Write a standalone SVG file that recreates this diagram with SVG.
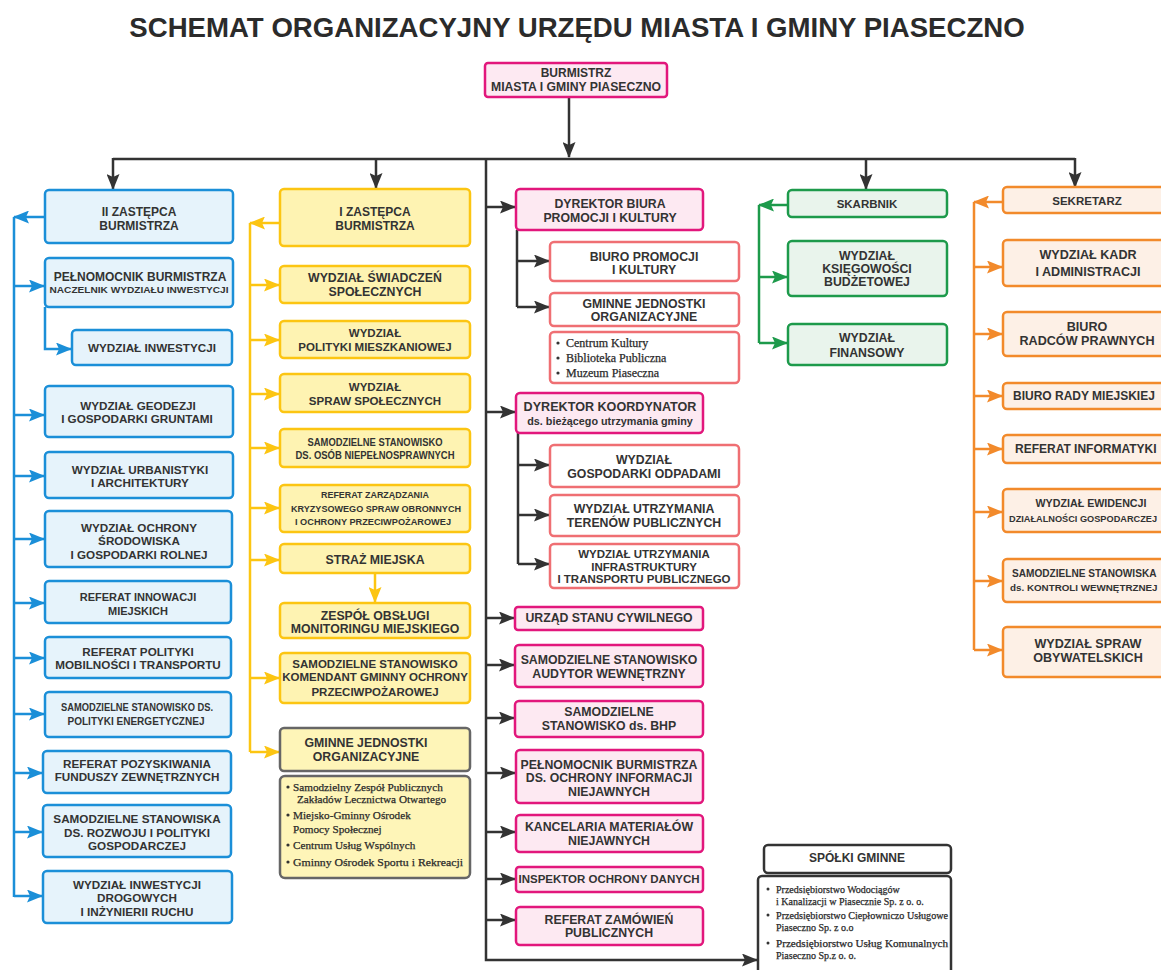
<svg xmlns="http://www.w3.org/2000/svg" width="1161" height="970" viewBox="0 0 1161 970">
<style>
text{font-family:"Liberation Sans",Arial,sans-serif;font-weight:bold;fill:#333;text-anchor:middle;font-size:11.5px}
.f12{font-size:12px}.f11{font-size:11px}.f10{font-size:10.5px}.f9{font-size:9.5px}
.fb{font-size:11.7px}.fm{font-size:12.3px}.fo{font-size:12.6px}
text.sr{font-family:"Liberation Serif","Times New Roman",serif;font-weight:normal;text-anchor:start;fill:#2a2a2a;stroke:#2a2a2a;stroke-width:0.25}
text.st{text-anchor:start}
rect{stroke-width:2.5}
.blue rect{fill:#e6f3fb;stroke:#1b8fd8}
.yel rect{fill:#fef3b2;stroke:#fcc512}
.pink rect{fill:#fde9f2;stroke:#e2177c}
.sal rect{fill:#ffffff;stroke:#ef6f73}
.grn rect{fill:#e9f4ec;stroke:#1d9a4b}
.org rect{fill:#fdf0e6;stroke:#f28a2b}
.gry rect{fill:#fef5b8;stroke:#666}
.blk rect{fill:#ffffff;stroke:#333}
.c{fill:none;stroke-width:2.5}
.cb{stroke:#1b8fd8}.cy{stroke:#fcc512}.ck{stroke:#333}.cg{stroke:#1d9a4b}.co{stroke:#f28a2b}
.dot{fill:#333}
</style>
<defs>
<marker id="ab" markerUnits="userSpaceOnUse" markerWidth="16" markerHeight="13" viewBox="0 0 16 13" refX="15" refY="6.5" orient="auto"><path d="M0,0 L16,6.5 L0,13 L3,6.5 z" fill="#1b8fd8"/></marker>
<marker id="ay" markerUnits="userSpaceOnUse" markerWidth="16" markerHeight="13" viewBox="0 0 16 13" refX="15" refY="6.5" orient="auto"><path d="M0,0 L16,6.5 L0,13 L3,6.5 z" fill="#fcc512"/></marker>
<marker id="ak" markerUnits="userSpaceOnUse" markerWidth="16" markerHeight="13" viewBox="0 0 16 13" refX="15" refY="6.5" orient="auto"><path d="M0,0 L16,6.5 L0,13 L3,6.5 z" fill="#333"/></marker>
<marker id="ag" markerUnits="userSpaceOnUse" markerWidth="16" markerHeight="13" viewBox="0 0 16 13" refX="15" refY="6.5" orient="auto"><path d="M0,0 L16,6.5 L0,13 L3,6.5 z" fill="#1d9a4b"/></marker>
<marker id="ao" markerUnits="userSpaceOnUse" markerWidth="16" markerHeight="13" viewBox="0 0 16 13" refX="15" refY="6.5" orient="auto"><path d="M0,0 L16,6.5 L0,13 L3,6.5 z" fill="#f28a2b"/></marker>
</defs>
<rect x="0" y="0" width="1161" height="970" fill="#ffffff" stroke="none"/>
<text x="577" y="37" style="font-size:27.6px;fill:#2b2b2b">SCHEMAT ORGANIZACYJNY URZĘDU MIASTA I GMINY PIASECZNO</text>

<g id="connectors">
  <path class="c ck" d="M569,97 V157" marker-end="url(#ak)"/>
  <path class="c ck" d="M113,159 H1075"/>
  <path class="c ck" d="M113,158 V189" marker-end="url(#ak)"/>
  <path class="c ck" d="M376,158 V188" marker-end="url(#ak)"/>
  <path class="c ck" d="M866,158 V189" marker-end="url(#ak)"/>
  <path class="c ck" d="M1075,158 V187" marker-end="url(#ak)"/>
  <path class="c ck" d="M486,158 V960 H757" marker-end="url(#ak)"/>
  <path class="c ck" d="M486,207 H515" marker-end="url(#ak)"/>
  <path class="c ck" d="M486,412 H515" marker-end="url(#ak)"/>
  <path class="c ck" d="M486,618 H514" marker-end="url(#ak)"/>
  <path class="c ck" d="M486,665 H514" marker-end="url(#ak)"/>
  <path class="c ck" d="M486,718 H514" marker-end="url(#ak)"/>
  <path class="c ck" d="M486,773 H515" marker-end="url(#ak)"/>
  <path class="c ck" d="M486,832 H515" marker-end="url(#ak)"/>
  <path class="c ck" d="M486,879 H515" marker-end="url(#ak)"/>
  <path class="c ck" d="M486,920 H515" marker-end="url(#ak)"/>
  <path class="c ck" d="M517,230 V307"/>
  <path class="c ck" d="M517,261 H549" marker-end="url(#ak)"/>
  <path class="c ck" d="M517,307 H549" marker-end="url(#ak)"/>
  <path class="c ck" d="M518,433 V564"/>
  <path class="c ck" d="M518,465 H549" marker-end="url(#ak)"/>
  <path class="c ck" d="M518,515 H549" marker-end="url(#ak)"/>
  <path class="c ck" d="M518,564 H549" marker-end="url(#ak)"/>
  <path class="c cb" d="M14,217 V897"/>
  <path class="c cb" d="M45,217 H14" marker-end="url(#ab)"/>
  <path class="c cb" d="M14,286 H44" marker-end="url(#ab)"/>
  <path class="c cb" d="M45,307 V349 H71" marker-end="url(#ab)"/>
  <path class="c cb" d="M14,415 H44" marker-end="url(#ab)"/>
  <path class="c cb" d="M14,476 H44" marker-end="url(#ab)"/>
  <path class="c cb" d="M14,539 H44" marker-end="url(#ab)"/>
  <path class="c cb" d="M14,603 H44" marker-end="url(#ab)"/>
  <path class="c cb" d="M14,658 H44" marker-end="url(#ab)"/>
  <path class="c cb" d="M14,714 H44" marker-end="url(#ab)"/>
  <path class="c cb" d="M14,773 H42" marker-end="url(#ab)"/>
  <path class="c cb" d="M14,832 H42" marker-end="url(#ab)"/>
  <path class="c cb" d="M14,896 H42" marker-end="url(#ab)"/>
  <path class="c cy" d="M250,223 V752"/>
  <path class="c cy" d="M280,223 H250" marker-end="url(#ay)"/>
  <path class="c cy" d="M250,285 H279" marker-end="url(#ay)"/>
  <path class="c cy" d="M250,340 H279" marker-end="url(#ay)"/>
  <path class="c cy" d="M250,394 H279" marker-end="url(#ay)"/>
  <path class="c cy" d="M250,448 H279" marker-end="url(#ay)"/>
  <path class="c cy" d="M250,508 H279" marker-end="url(#ay)"/>
  <path class="c cy" d="M250,560 H279" marker-end="url(#ay)"/>
  <path class="c cy" d="M250,678 H279" marker-end="url(#ay)"/>
  <path class="c cy" d="M250,752 H279" marker-end="url(#ay)"/>
  <path class="c cy" d="M375,573 V602" marker-end="url(#ay)"/>
  <path class="c cg" d="M759,205 V343"/>
  <path class="c cg" d="M788,205 H759" marker-end="url(#ag)"/>
  <path class="c cg" d="M759,277 H787" marker-end="url(#ag)"/>
  <path class="c cg" d="M759,343 H787" marker-end="url(#ag)"/>
  <path class="c co" d="M974,202 V650"/>
  <path class="c co" d="M1003,202 H974" marker-end="url(#ao)"/>
  <path class="c co" d="M974,267 H1002" marker-end="url(#ao)"/>
  <path class="c co" d="M974,334 H1002" marker-end="url(#ao)"/>
  <path class="c co" d="M974,396 H1002" marker-end="url(#ao)"/>
  <path class="c co" d="M974,449 H1002" marker-end="url(#ao)"/>
  <path class="c co" d="M974,512 H1002" marker-end="url(#ao)"/>
  <path class="c co" d="M974,581 H1002" marker-end="url(#ao)"/>
  <path class="c co" d="M974,650 H1002" marker-end="url(#ao)"/>
</g>

<g id="burmistrz" class="pink"><rect x="485" y="63" width="182" height="34" rx="3"/>
<text x="576" y="77" class="f12">BURMISTRZ</text><text x="576" y="90.5" class="f12" textLength="170" lengthAdjust="spacingAndGlyphs">MIASTA I GMINY PIASECZNO</text></g>

<g id="b1" class="blue"><rect x="45" y="190" width="188" height="53" rx="4"/><text x="139" y="216" class="f12">II ZASTĘPCA</text><text x="139" y="230" class="f12">BURMISTRZA</text></g>
<g id="b2" class="blue"><rect x="45" y="258" width="188" height="49" rx="4"/><text x="140" y="281" style="font-size:12px">PEŁNOMOCNIK BURMISTRZA</text><text x="139" y="293" class="f9" textLength="179" lengthAdjust="spacingAndGlyphs">NACZELNIK WYDZIAŁU INWESTYCJI</text></g>
<g id="b3" class="blue"><rect x="72" y="330" width="160" height="35" rx="4"/><text x="152" y="352" class="fb">WYDZIAŁ INWESTYCJI</text></g>
<g id="b4" class="blue"><rect x="45" y="386" width="188" height="51" rx="4"/><text x="138" y="410" class="fb">WYDZIAŁ GEODEZJI</text><text x="137" y="423" class="fb">I GOSPODARKI GRUNTAMI</text></g>
<g id="b5" class="blue"><rect x="45" y="452" width="188" height="46" rx="4"/><text x="140" y="474" class="fb">WYDZIAŁ URBANISTYKI</text><text x="140" y="487" class="fb">I ARCHITEKTURY</text></g>
<g id="b6" class="blue"><rect x="45" y="511" width="187" height="56" rx="4"/><text x="139" y="532" class="fb">WYDZIAŁ OCHRONY</text><text x="139" y="545" class="fb">ŚRODOWISKA</text><text x="139" y="559" class="fb">I GOSPODARKI ROLNEJ</text></g>
<g id="b7" class="blue"><rect x="45" y="581" width="186" height="42" rx="4"/><text x="138" y="601" class="f11">REFERAT INNOWACJI</text><text x="138" y="615" class="f11">MIEJSKICH</text></g>
<g id="b8" class="blue"><rect x="45" y="637" width="186" height="41" rx="4"/><text x="138" y="656" class="fb">REFERAT POLITYKI</text><text x="138" y="668.5" class="fb">MOBILNOŚCI I TRANSPORTU</text></g>
<g id="b9" class="blue"><rect x="45" y="692" width="186" height="45" rx="4"/><text x="137" y="711" class="f10" textLength="152" lengthAdjust="spacingAndGlyphs">SAMODZIELNE STANOWISKO DS.</text><text x="136" y="725" class="f10" textLength="137" lengthAdjust="spacingAndGlyphs">POLITYKI ENERGETYCZNEJ</text></g>
<g id="b10" class="blue"><rect x="43" y="751" width="188" height="42" rx="4"/><text x="137" y="768" class="fb">REFERAT POZYSKIWANIA</text><text x="137" y="781" class="fb">FUNDUSZY ZEWNĘTRZNYCH</text></g>
<g id="b11" class="blue"><rect x="43" y="805" width="188" height="52" rx="4"/><text x="137" y="823" class="fb">SAMODZIELNE STANOWISKA</text><text x="137" y="837" class="fb">DS. ROZWOJU I POLITYKI</text><text x="137" y="850" class="fb">GOSPODARCZEJ</text></g>
<g id="b12" class="blue"><rect x="43" y="871" width="189" height="52" rx="4"/><text x="137" y="889" class="fb">WYDZIAŁ INWESTYCJI</text><text x="137" y="902" class="fb">DROGOWYCH</text><text x="137" y="916" class="fb">I INŻYNIERII RUCHU</text></g>

<g id="y1" class="yel"><rect x="280" y="189" width="190" height="57" rx="4"/><text x="375" y="216" class="f12">I ZASTĘPCA</text><text x="375" y="230" class="f12">BURMISTRZA</text></g>
<g id="y2" class="yel"><rect x="280" y="266" width="190" height="37" rx="4"/><text x="375" y="282" class="fm">WYDZIAŁ ŚWIADCZEŃ</text><text x="375" y="296" class="fm">SPOŁECZNYCH</text></g>
<g id="y3" class="yel"><rect x="280" y="321" width="190" height="37" rx="4"/><text x="375" y="337">WYDZIAŁ</text><text x="375" y="351">POLITYKI MIESZKANIOWEJ</text></g>
<g id="y4" class="yel"><rect x="280" y="374" width="190" height="38" rx="4"/><text x="375" y="391">WYDZIAŁ</text><text x="375" y="405">SPRAW SPOŁECZNYCH</text></g>
<g id="y5" class="yel"><rect x="280" y="429" width="190" height="38" rx="4"/><text x="375" y="446" class="f10" textLength="135" lengthAdjust="spacingAndGlyphs">SAMODZIELNE STANOWISKO</text><text x="375" y="459" class="f10" textLength="159" lengthAdjust="spacingAndGlyphs">DS. OSÓB NIEPEŁNOSPRAWNYCH</text></g>
<g id="y6" class="yel"><rect x="280" y="485" width="190" height="47" rx="4"/><text x="375" y="498" class="f9" textLength="108" lengthAdjust="spacingAndGlyphs">REFERAT ZARZĄDZANIA</text><text x="376" y="511.5" class="f9" textLength="170" lengthAdjust="spacingAndGlyphs">KRYZYSOWEGO SPRAW OBRONNYCH</text><text x="373" y="525" class="f9" textLength="156" lengthAdjust="spacingAndGlyphs">I OCHRONY PRZECIWPOŻAROWEJ</text></g>
<g id="y7" class="yel"><rect x="280" y="544" width="190" height="29" rx="4"/><text x="375" y="564" class="fm">STRAŻ MIEJSKA</text></g>
<g id="y8" class="yel"><rect x="280" y="603" width="190" height="35" rx="4"/><text x="375" y="620" class="fm">ZESPÓŁ OBSŁUGI</text><text x="375" y="633" class="fm">MONITORINGU MIEJSKIEGO</text></g>
<g id="y9" class="yel"><rect x="280" y="653" width="190" height="50" rx="4"/><text x="375" y="668">SAMODZIELNE STANOWISKO</text><text x="375" y="681">KOMENDANT GMINNY OCHRONY</text><text x="375" y="696">PRZECIWPOŻAROWEJ</text></g>
<g id="y10" class="gry"><rect x="280" y="728" width="190" height="43" rx="4"/><text x="366" y="747" class="fm">GMINNE JEDNOSTKI</text><text x="366" y="761" class="fm">ORGANIZACYJNE</text></g>
<g id="y11" class="gry"><rect x="280" y="776" width="190" height="102" rx="5"/>
<circle class="dot" cx="288" cy="787" r="1.6"/><text class="sr" x="293" y="790.5" style="font-size:11.2px">Samodzielny Zespół Publicznych</text>
<text class="sr" x="297" y="802.5" style="font-size:11.2px">Zakładów Lecznictwa Otwartego</text>
<circle class="dot" cx="288" cy="815" r="1.6"/><text class="sr" x="293" y="818.5" style="font-size:11.2px">Miejsko-Gminny Ośrodek</text>
<text class="sr" x="293" y="832.5" style="font-size:11.2px">Pomocy Społecznej</text>
<circle class="dot" cx="288" cy="845" r="1.6"/><text class="sr" x="293" y="848.5" style="font-size:11.2px">Centrum Usług Wspólnych</text>
<circle class="dot" cx="288" cy="862" r="1.6"/><text class="sr" x="293" y="865.5" style="font-size:11.2px" textLength="170" lengthAdjust="spacingAndGlyphs">Gminny Ośrodek Sportu i Rekreacji</text></g>

<g id="m1" class="pink"><rect x="516" y="189" width="187" height="41" rx="4"/><text x="610" y="208" class="fm">DYREKTOR BIURA</text><text x="610" y="222" class="fm">PROMOCJI I KULTURY</text></g>
<g id="m1a" class="sal"><rect x="550" y="242" width="189" height="39" rx="4"/><text x="644" y="261" class="fm">BIURO PROMOCJI</text><text x="644" y="274" class="fm">I KULTURY</text></g>
<g id="m1b" class="sal"><rect x="550" y="293" width="189" height="33" rx="4"/><text x="644" y="308" class="fm">GMINNE JEDNOSTKI</text><text x="644" y="321" class="fm">ORGANIZACYJNE</text></g>
<g id="m1c" class="sal"><rect x="550" y="332" width="189" height="51" rx="4"/>
<circle class="dot" cx="558" cy="343" r="1.6"/><text class="sr" x="566" y="347" style="font-size:12px">Centrum Kultury</text>
<circle class="dot" cx="558" cy="358" r="1.6"/><text class="sr" x="566" y="362" style="font-size:12px">Biblioteka Publiczna</text>
<circle class="dot" cx="558" cy="373" r="1.6"/><text class="sr" x="566" y="377" style="font-size:12px">Muzeum Piaseczna</text></g>
<g id="m2" class="pink"><rect x="516" y="393" width="187" height="40" rx="4"/><text x="610" y="411" style="font-size:12.6px">DYREKTOR KOORDYNATOR</text><text x="610" y="425" style="font-size:10.8px">ds. bieżącego utrzymania gminy</text></g>
<g id="m2a" class="sal"><rect x="550" y="445" width="189" height="42" rx="4"/><text x="644" y="464" class="fm">WYDZIAŁ</text><text x="644" y="478" class="fm">GOSPODARKI ODPADAMI</text></g>
<g id="m2b" class="sal"><rect x="550" y="495" width="189" height="41" rx="4"/><text x="644" y="513" class="fm">WYDZIAŁ UTRZYMANIA</text><text x="644" y="527" class="fm">TERENÓW PUBLICZNYCH</text></g>
<g id="m2c" class="sal"><rect x="550" y="544" width="189" height="44" rx="4"/><text x="644" y="558">WYDZIAŁ UTRZYMANIA</text><text x="644" y="570.5">INFRASTRUKTURY</text><text x="644" y="583">I TRANSPORTU PUBLICZNEGO</text></g>
<g id="m3" class="pink"><rect x="515" y="607" width="188" height="23" rx="3"/><text x="609" y="622" class="fm">URZĄD STANU CYWILNEGO</text></g>
<g id="m4" class="pink"><rect x="515" y="645" width="188" height="42" rx="4"/><text x="609" y="664" class="fm">SAMODZIELNE STANOWISKO</text><text x="609" y="678" class="fm">AUDYTOR WEWNĘTRZNY</text></g>
<g id="m5" class="pink"><rect x="515" y="701" width="188" height="36" rx="4"/><text x="609" y="716" class="fm">SAMODZIELNE</text><text x="609" y="730" class="fm">STANOWISKO ds. BHP</text></g>
<g id="m6" class="pink"><rect x="516" y="750" width="187" height="53" rx="4"/><text x="609" y="769" class="fm">PEŁNOMOCNIK BURMISTRZA</text><text x="609" y="782" class="fm">DS. OCHRONY INFORMACJI</text><text x="609" y="796" class="fm">NIEJAWNYCH</text></g>
<g id="m7" class="pink"><rect x="516" y="815" width="187" height="37" rx="4"/><text x="609" y="831" class="fm">KANCELARIA MATERIAŁÓW</text><text x="609" y="845" class="fm">NIEJAWNYCH</text></g>
<g id="m8" class="pink"><rect x="516" y="867" width="187" height="25" rx="3"/><text x="609" y="883" textLength="181" lengthAdjust="spacingAndGlyphs">INSPEKTOR OCHRONY DANYCH</text></g>
<g id="m9" class="pink"><rect x="516" y="907" width="187" height="38" rx="4"/><text x="609" y="924" class="fm">REFERAT ZAMÓWIEŃ</text><text x="609" y="937" class="fm">PUBLICZNYCH</text></g>

<g id="g1" class="grn"><rect x="788" y="190" width="159" height="27" rx="4"/><text x="867" y="208">SKARBNIK</text></g>
<g id="g2" class="grn"><rect x="788" y="241" width="159" height="55" rx="4"/><text x="867" y="260" class="fm">WYDZIAŁ</text><text x="867" y="273" class="fm">KSIĘGOWOŚCI</text><text x="867" y="286" class="fm">BUDŻETOWEJ</text></g>
<g id="g3" class="grn"><rect x="788" y="324" width="159" height="41" rx="4"/><text x="867" y="342" class="fm">WYDZIAŁ</text><text x="867" y="357" class="fm">FINANSOWY</text></g>

<g id="o1" class="org"><rect x="1003" y="187" width="170" height="26" rx="4"/><text x="1087" y="205">SEKRETARZ</text></g>
<g id="o2" class="org"><rect x="1003" y="240" width="170" height="46" rx="4"/><text x="1088" y="259" class="fo">WYDZIAŁ  KADR</text><text x="1088" y="276" class="fo">I ADMINISTRACJI</text></g>
<g id="o3" class="org"><rect x="1003" y="312" width="170" height="44" rx="4"/><text x="1087" y="331" class="fo">BIURO</text><text x="1087" y="345" class="fo">RADCÓW  PRAWNYCH</text></g>
<g id="o4" class="org"><rect x="1003" y="383" width="170" height="26" rx="4"/><text x="1013" y="400" class="f12 st">BIURO RADY MIEJSKIEJ</text></g>
<g id="o5" class="org"><rect x="1003" y="435" width="170" height="28" rx="4"/><text x="1015" y="453" class="f12 st">REFERAT INFORMATYKI</text></g>
<g id="o6" class="org"><rect x="1003" y="489" width="170" height="43" rx="4"/><text x="1091" y="507" class="f10" textLength="111" lengthAdjust="spacingAndGlyphs">WYDZIAŁ EWIDENCJI</text><text x="1009" y="522" class="st" style="font-size:9.2px">DZIAŁALNOŚCI GOSPODARCZEJ</text></g>
<g id="o7" class="org"><rect x="1003" y="559" width="170" height="43" rx="4"/><text x="1012" y="577" class="st" style="font-size:10.1px">SAMODZIELNE STANOWISKA</text><text x="1010" y="591" class="st" style="font-size:9.8px">ds. KONTROLI WEWNĘTRZNEJ</text></g>
<g id="o8" class="org"><rect x="1003" y="627" width="170" height="50" rx="4"/><text x="1088" y="648" class="fo">WYDZIAŁ SPRAW</text><text x="1088" y="662" class="fo">OBYWATELSKICH</text></g>

<g id="s1" class="blk"><rect x="764" y="845" width="187" height="28" rx="4"/><text x="857" y="862" class="f12">SPÓŁKI GMINNE</text></g>
<g id="s2" class="blk"><rect x="758" y="876" width="193" height="104" rx="4"/>
<circle class="dot" cx="768" cy="889" r="1.5"/><text class="sr" x="776" y="892.5" style="font-size:10px">Przedsiębiorstwo Wodociągów</text>
<text class="sr" x="776" y="904.5" style="font-size:10px">i Kanalizacji w Piasecznie Sp. z o. o.</text>
<circle class="dot" cx="768" cy="915" r="1.5"/><text class="sr" x="776" y="918.5" style="font-size:10px" textLength="172" lengthAdjust="spacingAndGlyphs">Przedsiębiorstwo Ciepłowniczo Usługowe</text>
<text class="sr" x="776" y="930.5" style="font-size:10px">Piaseczno Sp. z o.o</text>
<circle class="dot" cx="768" cy="943" r="1.5"/><text class="sr" x="776" y="946.5" style="font-size:10px" textLength="172" lengthAdjust="spacingAndGlyphs">Przedsiębiorstwo Usług Komunalnych</text>
<text class="sr" x="776" y="958.5" style="font-size:10px">Piaseczno Sp.z o. o.</text></g>
</svg>
